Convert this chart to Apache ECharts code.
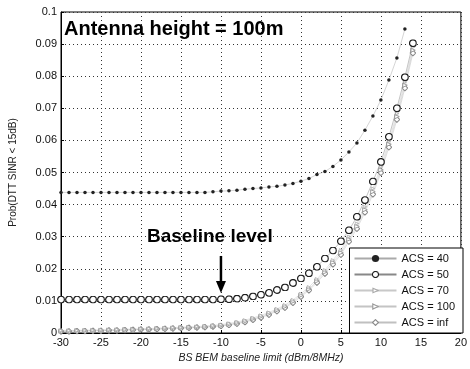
<!DOCTYPE html>
<html><head><meta charset="utf-8">
<script src="https://cdn.jsdelivr.net/npm/echarts@6/dist/echarts.min.js"></script>
<style>html,body{margin:0;padding:0;background:#fff}#c{width:470px;height:369px}</style>
</head><body><div id="c"></div>
<script>
const xs = [-30,-29,-28,-27,-26,-25,-24,-23,-22,-21,-20,-19,-18,-17,-16,-15,-14,-13,-12,-11,-10,-9,-8,-7,-6,-5,-4,-3,-2,-1,0,1,2,3,4,5,6,7,8,9,10,11,12,13,14];
const acs40 = [0.0438,0.0438,0.0438,0.0438,0.0438,0.0438,0.0438,0.0438,0.0438,0.0438,0.0438,0.0438,0.0438,0.0438,0.0438,0.0438,0.0438,0.0438,0.0438,0.0440,0.0442,0.0443,0.0445,0.0448,0.0450,0.0452,0.0455,0.0457,0.0461,0.0466,0.0473,0.0481,0.0494,0.0503,0.0519,0.0539,0.0564,0.0592,0.0632,0.0676,0.0726,0.0788,0.0857,0.0947,null];
const acs50 = [0.0104,0.0104,0.0104,0.0104,0.0104,0.0104,0.0104,0.0104,0.0104,0.0104,0.0104,0.0104,0.0104,0.0104,0.0104,0.0104,0.0104,0.0104,0.0104,0.0104,0.0105,0.0105,0.0107,0.0110,0.0114,0.0119,0.0125,0.0134,0.0142,0.0156,0.0170,0.0186,0.0206,0.0232,0.0257,0.0286,0.0320,0.0362,0.0414,0.0472,0.0533,0.0611,0.0700,0.0797,0.0903];
const acs70 = [0.0008,0.0008,0.0008,0.0009,0.0009,0.0010,0.0010,0.0011,0.0012,0.0012,0.0013,0.0014,0.0015,0.0016,0.0017,0.0018,0.0019,0.0020,0.0022,0.0024,0.0026,0.0030,0.0034,0.0040,0.0047,0.0055,0.0064,0.0075,0.0087,0.0103,0.0122,0.0143,0.0168,0.0196,0.0227,0.0258,0.0300,0.0341,0.0393,0.0450,0.0518,0.0598,0.0684,0.0782,0.0890];
const acs100 = [0.0006,0.0006,0.0007,0.0007,0.0008,0.0008,0.0009,0.0009,0.0010,0.0011,0.0012,0.0012,0.0013,0.0014,0.0015,0.0016,0.0017,0.0018,0.0019,0.0021,0.0023,0.0027,0.0031,0.0036,0.0044,0.0051,0.0060,0.0071,0.0082,0.0098,0.0117,0.0137,0.0162,0.0190,0.0220,0.0250,0.0292,0.0332,0.0384,0.0440,0.0508,0.0588,0.0674,0.0772,0.0881];
const acsInf = [0.0005,0.0005,0.0006,0.0006,0.0007,0.0007,0.0008,0.0008,0.0009,0.0010,0.0011,0.0011,0.0012,0.0013,0.0014,0.0015,0.0016,0.0017,0.0018,0.0020,0.0022,0.0025,0.0029,0.0034,0.0041,0.0048,0.0057,0.0068,0.0079,0.0094,0.0113,0.0133,0.0157,0.0185,0.0214,0.0244,0.0285,0.0325,0.0376,0.0432,0.0499,0.0579,0.0665,0.0763,0.0872];
const seriesNames = ['ACS = 40','ACS = 50','ACS = 70','ACS = 100','ACS = inf'];
const xTicks = {min:-30, max:20, interval:5};
const yTicks = {min:0, max:0.1, interval:0.01};

const pairs = arr => xs.map((x,i)=>[x, arr[i]]);
const svgSym = inner => 'image://data:image/svg+xml;utf8,' + encodeURIComponent('<svg xmlns="http://www.w3.org/2000/svg" width="20" height="20" viewBox="0 0 20 20">' + inner + '</svg>');
const symCircle = svgSym('<circle cx="10" cy="10" r="8.4" fill="white" stroke="#1e1e1e" stroke-width="3"/>');
const symDiamond = svgSym('<polygon points="10,1.8 18.2,10 10,18.2 1.8,10" fill="white" stroke="#8a8a8a" stroke-width="3"/>');
const symTri100 = svgSym('<polygon points="2.5,3 18,10 2.5,17" fill="white" stroke="#999999" stroke-width="3.2"/>');
const symTri70 = svgSym('<polygon points="3,4 17,10 3,16" fill="white" stroke="#aaaaaa" stroke-width="3.2"/>');
const F = 'Liberation Sans, Arial, sans-serif';
const chart = echarts.init(document.getElementById('c'), null, {renderer:'canvas'});
chart.setOption({
  animation:false,
  grid:{left:53,right:7,top:12,bottom:36,show:true,borderColor:'#000',borderWidth:1},
  xAxis:{type:'value',min:xTicks.min,max:xTicks.max,interval:xTicks.interval,
    name:'BS BEM baseline limit (dBm/8MHz)',nameLocation:'middle',nameGap:20,
    nameTextStyle:{fontFamily:F,fontSize:10.5,fontStyle:'italic',color:'#222'},
    axisLine:{onZero:false,lineStyle:{color:'#000'}},axisTick:{inside:true,length:3,lineStyle:{color:'#000'}},
    axisLabel:{fontFamily:F,fontSize:11,color:'#111',margin:4},
    splitLine:{show:true,lineStyle:{color:'#333',type:[1,3],width:1}}},
  yAxis:{type:'value',min:yTicks.min,max:yTicks.max,interval:yTicks.interval,
    name:'Prob(DTT SINR < 15dB)',nameLocation:'middle',nameGap:43,
    nameTextStyle:{fontFamily:F,fontSize:10,color:'#222'},
    axisLine:{show:true,onZero:false,lineStyle:{color:'#000'}},axisTick:{inside:true,length:3,lineStyle:{color:'#000'}},
    axisLabel:{fontFamily:F,fontSize:11,color:'#111',margin:4,formatter:v=>v===0?'0':(Math.round(v*100)/100).toString()},
    splitLine:{show:true,lineStyle:{color:'#333',type:[1,3],width:1}}},
  legend:{orient:'vertical',right:7,bottom:36,width:114,backgroundColor:'#fff',borderColor:'#000',borderWidth:1,
    padding:[5,8,5,4],itemWidth:42,itemHeight:9,itemGap:5,
    textStyle:{fontFamily:F,fontSize:11,color:'#111'},
    data:seriesNames},
  series:[
    {name:seriesNames[4],type:'line',data:pairs(acsInf),symbol:symDiamond,symbolSize:7,z:2,
      itemStyle:{color:'#8a8a8a'},lineStyle:{width:0.5,color:'#c0c0c0'}},
    {name:seriesNames[3],type:'line',data:pairs(acs100),symbol:symTri100,symbolSize:6,z:2,
      itemStyle:{color:'#999999'},lineStyle:{width:0.5,color:'#c4c4c4'}},
    {name:seriesNames[2],type:'line',data:pairs(acs70),symbol:symTri70,symbolSize:5,z:2,
      itemStyle:{color:'#aaaaaa'},lineStyle:{width:0.5,color:'#c8c8c8'}},
    {name:seriesNames[1],type:'line',data:pairs(acs50),symbol:symCircle,symbolSize:8,z:3,
      itemStyle:{color:'#1e1e1e'},lineStyle:{width:0.5,color:'#888'}},
    {name:seriesNames[0],type:'line',data:pairs(acs40),symbol:'circle',symbolSize:3.5,z:4,connectNulls:false,
      itemStyle:{color:'#222'},lineStyle:{width:0.5,color:'#aaa'}}
  ]
});
const arrowTop = chart.convertToPixel({gridIndex:0},[-10,0.024]);
const arrowTip = chart.convertToPixel({gridIndex:0},[-10,0.0125]);
chart.setOption({graphic:[
  {type:'text',left:64,top:19,style:{text:'Antenna height = 100m',fontFamily:F,fontSize:20,fontWeight:'bold',fill:'#000'}},
  {type:'text',left:147,top:227,style:{text:'Baseline level',fontFamily:F,fontSize:19,fontWeight:'bold',fill:'#000'}},
  {type:'line',shape:{x1:arrowTop[0],y1:arrowTop[1],x2:arrowTip[0],y2:arrowTip[1]-8},style:{stroke:'#000',lineWidth:2.5}},
  {type:'polygon',shape:{points:[[arrowTip[0]-5,arrowTip[1]-12],[arrowTip[0]+5,arrowTip[1]-12],[arrowTip[0],arrowTip[1]]]},style:{fill:'#000'}}
]});
</script></body></html>
